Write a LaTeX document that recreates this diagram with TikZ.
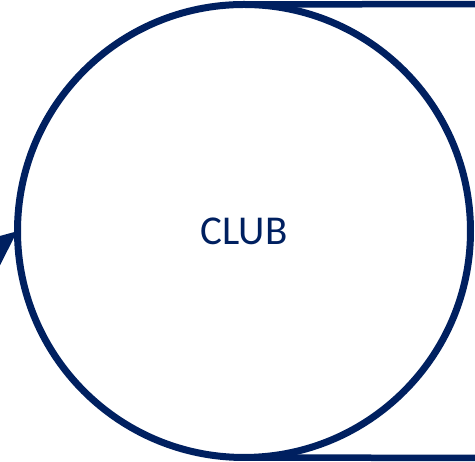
\documentclass[tikz,border=0pt]{standalone}
\usepackage{fontspec}
\setmainfont{Carlito}
\usetikzlibrary{arrows.meta, positioning}
\definecolor{navy}{RGB}{0,32,96}

\begin{document}
\begin{tikzpicture}[
    x=1pt, y=1pt,
    club/.style={draw=navy, circle, line width=7pt, inner sep=0pt, outer sep=0pt, minimum size=453pt, text=navy, font=\fontsize{41}{49}\selectfont},
    link/.style={draw=navy, line width=6.5pt},
    arrow/.style={-{Triangle[length=36pt, width=30pt]}, draw=navy, fill=navy, line width=6pt}
]

\clip (0,0) rectangle (475,462);

\node[club] (club) at (244, 231) {CLUB};

% free ends outside the frame
\coordinate (topend) at (490, 458);
\coordinate (botend) at (490, 4);
\coordinate (src) at (-40, 184);

\draw[link] (club.north) -- (topend);
\draw[link] (club.south) -- (botend);
\draw[arrow] (src) -- (club.west);

\end{tikzpicture}
\end{document}
